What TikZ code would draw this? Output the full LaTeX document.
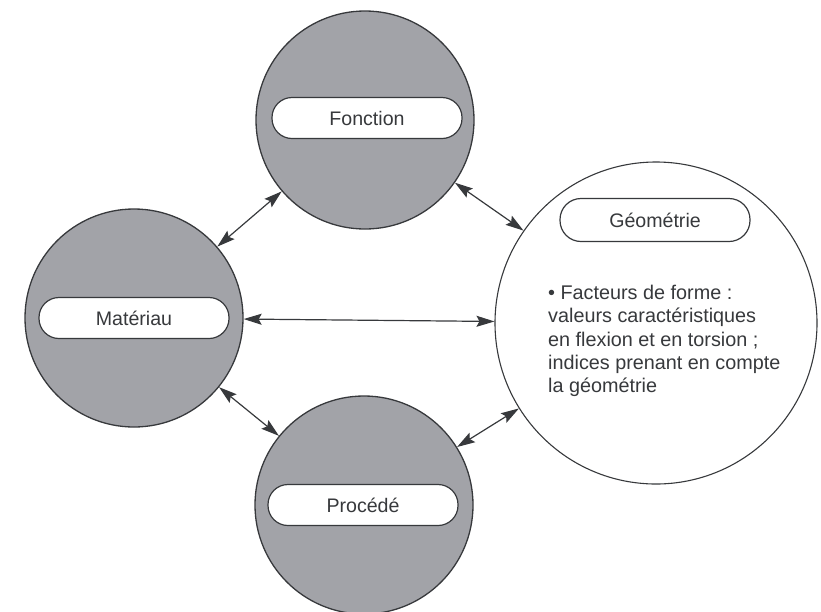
\documentclass[tikz,border=0pt]{standalone}
\usepackage{fontspec}
\setmainfont{Liberation Sans}
\usetikzlibrary{arrows.meta}
\definecolor{ink}{RGB}{55,57,60}
\definecolor{disk}{RGB}{162,163,168}
\tikzset{
  bigdisk/.style={circle, draw=ink, line width=1.3pt, fill=disk, minimum size=218pt, inner sep=0pt},
  geodisk/.style={circle, draw=ink, line width=1.1pt, fill=white, minimum size=322pt, inner sep=0pt},
  pill/.style={draw=ink, line width=1.2pt, fill=white, rounded corners=20pt, minimum width=190pt, minimum height=41pt, inner sep=0pt, text=ink, font=\fontsize{19.6}{23}\selectfont},
  tip/.tip={Stealth[length=18pt,width=11pt,inset=3pt]},
  link/.style={draw=ink, line width=1.2pt, {tip}-{tip}}
}
\begin{document}
\begin{tikzpicture}[x=1pt,y=-1pt]
  \useasboundingbox (0,0) rectangle (821,611);
  \clip (0,0) rectangle (821,611);
  % the four disks
  \node[bigdisk] (fonc) at (365,120) {};
  \node[bigdisk] (mat) at (134,318) {};
  \node[bigdisk] (proc) at (364,505) {};
  \node[geodisk] (geo) at (656,323) {};
  % labels
  \node[pill] (foncl) at (367,118) {Fonction};
  \node[pill] (matl) at (134,318) {Matériau};
  \node[pill] (procl) at (363,505) {Procédé};
  \node[pill, minimum height=43pt, rounded corners=21pt] (geol) at (655,220) {Géométrie};
  \node[anchor=west, align=left, inner sep=0pt, text=ink, font=\fontsize{19.8}{23.3}\selectfont] (geotxt) at (548,341)
    {• Facteurs de forme :\\valeurs caractéristiques\\en flexion et en torsion ;\\indices prenant en compte\\la géométrie};
  % links between the disks
  \draw[link] (mat) -- (fonc);
  \draw[link] (fonc) -- (geo);
  \draw[link] (mat) -- (geo);
  \draw[link] (mat) -- (proc);
  \draw[link] (proc) -- (geo);
\end{tikzpicture}
\end{document}
